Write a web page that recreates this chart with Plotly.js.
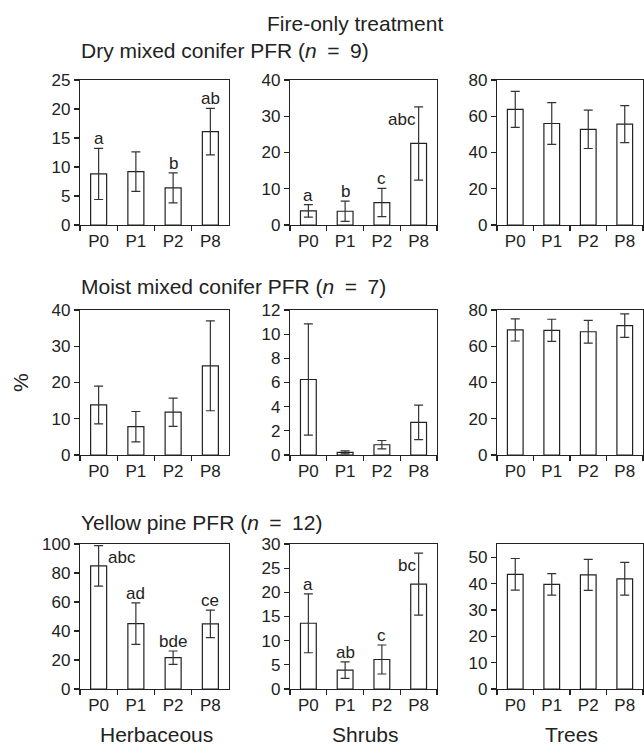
<!DOCTYPE html>
<html>
<head>
<meta charset="utf-8">
<script src="https://cdn.plot.ly/plotly-3.0.1.min.js"></script>
<style>html,body{margin:0;padding:0;background:#fff;}#chart{width:644px;height:745px;}</style>
</head>
<body>
<div id="chart"></div>
<script>
// ---- data ----
const categories = ['P0', 'P1', 'P2', 'P8'];

const dryHerb = [8.8, 9.2, 6.4, 16.1];
const dryHerbErr = [4.4, 3.4, 2.6, 4.0];
const dryHerbLetters = ['a', '', 'b', 'ab'];
const dryShrub = [3.9, 3.8, 6.2, 22.5];
const dryShrubErr = [1.7, 2.8, 3.9, 10.1];
const dryShrubLetters = ['a', 'b', 'c', 'abc'];
const dryTree = [63.8, 56.0, 52.8, 55.7];
const dryTreeErr = [9.9, 11.5, 10.6, 10.2];
const dryTreeLetters = ['', '', '', ''];

const moistHerb = [13.8, 7.8, 11.8, 24.6];
const moistHerbErr = [5.2, 4.2, 3.9, 12.4];
const moistHerbLetters = ['', '', '', ''];
const moistShrub = [6.25, 0.22, 0.85, 2.7];
const moistShrubErr = [4.6, 0.12, 0.35, 1.43];
const moistShrubLetters = ['', '', '', ''];
const moistTree = [69.0, 68.8, 68.0, 71.4];
const moistTreeErr = [6.1, 6.1, 6.3, 6.5];
const moistTreeLetters = ['', '', '', ''];

const pineHerb = [84.9, 45.1, 21.6, 44.9];
const pineHerbErr = [14.0, 14.3, 4.6, 9.5];
const pineHerbLetters = ['abc', 'ad', 'bde', 'ce'];
const pineShrub = [13.6, 3.9, 6.1, 21.7];
const pineShrubErr = [6.1, 1.7, 3.0, 6.4];
const pineShrubLetters = ['a', 'ab', 'c', 'bc'];
const pineTree = [43.5, 39.7, 43.3, 41.8];
const pineTreeErr = [6.0, 4.1, 5.9, 6.2];
const pineTreeLetters = ['', '', '', ''];

const mainTitle = 'Fire-only treatment';
const rowTitles = ['Dry mixed conifer PFR (<i>n</i>\u2002=\u20029)', 'Moist mixed conifer PFR (<i>n</i>\u2002=\u20027)', 'Yellow pine PFR (<i>n</i>\u2002=\u200212)'];
const colTitles = ['Herbaceous', 'Shrubs', 'Trees'];
const yLabel = '%';

// ---- layout config ----
const W = 644, H = 745;
const colPx = [[80, 229], [290, 437], [497, 643]];
const rowPx = [[80, 225], [310, 455], [544, 689]];
const yRanges = [[0, 25], [0, 40], [0, 80], [0, 40], [0, 12], [0, 80], [0, 100], [0, 30], [0, 55]];
const yDticks = [5, 10, 20, 10, 2, 20, 20, 5, 10];
// placement of letter for bar (panel index - bar index -> side)
const letterSide = { '1-3': 'left', '6-0': 'right', '7-3': 'left' };

const panels = [
  [dryHerb, dryHerbErr, dryHerbLetters], [dryShrub, dryShrubErr, dryShrubLetters], [dryTree, dryTreeErr, dryTreeLetters],
  [moistHerb, moistHerbErr, moistHerbLetters], [moistShrub, moistShrubErr, moistShrubLetters], [moistTree, moistTreeErr, moistTreeLetters],
  [pineHerb, pineHerbErr, pineHerbLetters], [pineShrub, pineShrubErr, pineShrubLetters], [pineTree, pineTreeErr, pineTreeLetters]
];

const FONT = 'Liberation Sans, Arial, sans-serif';
const INK = '#222';
const traces = [];
const layout = {
  width: W, height: H,
  margin: { l: 0, r: 0, t: 0, b: 0 },
  paper_bgcolor: '#fff', plot_bgcolor: '#fff',
  showlegend: false,
  font: { family: FONT, color: INK, size: 16 },
  annotations: []
};

panels.forEach((p, k) => {
  const r = Math.floor(k / 3), c = k % 3;
  const sfx = k === 0 ? '' : String(k + 1);
  const [vals, errs, letters] = p;
  traces.push({
    type: 'bar', x: categories, y: vals,
    xaxis: 'x' + sfx, yaxis: 'y' + sfx,
    width: 0.43,
    marker: { color: '#fff', line: { color: INK, width: 1.2 } },
    error_y: { type: 'data', array: errs, visible: true, color: '#333', thickness: 1.2, width: 4.5 },
    hoverinfo: 'skip'
  });
  layout['xaxis' + sfx] = {
    domain: [colPx[c][0] / W, colPx[c][1] / W],
    anchor: 'y' + sfx,
    type: 'category', categoryorder: 'array', categoryarray: categories,
    range: [-0.5, 3.5],
    tickson: 'boundaries', ticks: 'outside', ticklen: 5, tickwidth: 1.2, tickcolor: INK,
    showline: true, mirror: true, linecolor: INK, linewidth: 1.2,
    showgrid: false, zeroline: false,
    tickfont: { family: FONT, size: 17, color: INK },
    fixedrange: true
  };
  layout['yaxis' + sfx] = {
    domain: [1 - rowPx[r][1] / H, 1 - rowPx[r][0] / H],
    anchor: 'x' + sfx,
    range: yRanges[k], dtick: yDticks[k], tick0: 0,
    ticks: 'outside', ticklen: 5, tickwidth: 1.2, tickcolor: INK,
    showline: true, mirror: true, linecolor: INK, linewidth: 1.2,
    showgrid: false, zeroline: false,
    tickfont: { family: FONT, size: 17, color: INK },
    fixedrange: true
  };
  letters.forEach((t, i) => {
    if (!t) return;
    const side = letterSide[k + '-' + i] || 'above';
    const top = vals[i] + errs[i];
    const ann = {
      xref: 'x' + sfx, yref: 'y' + sfx, x: categories[i], y: top,
      text: t, showarrow: false, font: { family: FONT, size: 17, color: INK }
    };
    if (side === 'above') { ann.xanchor = 'center'; ann.yanchor = 'bottom'; ann.yshift = -2; }
    else if (side === 'left') { ann.xanchor = 'right'; ann.yanchor = 'top'; ann.xshift = -1; ann.yshift = -1; }
    else { ann.xanchor = 'left'; ann.yanchor = 'top'; ann.xshift = 7; ann.yshift = 0; }
    layout.annotations.push(ann);
  });
});

// titles
layout.annotations.push({
  xref: 'paper', yref: 'paper', x: 355 / W, y: 1 - 23 / H, xanchor: 'center', yanchor: 'middle',
  text: mainTitle, showarrow: false, font: { family: FONT, size: 21, color: INK }
});
const rowTitleY = [51, 287, 522];
rowTitles.forEach((t, r) => {
  layout.annotations.push({
    xref: 'paper', yref: 'paper', x: 79 / W, y: 1 - rowTitleY[r] / H, xanchor: 'left', yanchor: 'middle',
    text: t, showarrow: false, font: { family: FONT, size: 21, color: INK }
  });
});
const colTitleX = [156, 365, 571];
colTitles.forEach((t, c) => {
  layout.annotations.push({
    xref: 'paper', yref: 'paper', x: colTitleX[c] / W, y: 1 - 734 / H, xanchor: 'center', yanchor: 'middle',
    text: t, showarrow: false, font: { family: FONT, size: 21, color: INK }
  });
});
layout.annotations.push({
  xref: 'paper', yref: 'paper', x: 20 / W, y: 1 - 383 / H, xanchor: 'center', yanchor: 'middle',
  text: yLabel, textangle: -90, showarrow: false, font: { family: FONT, size: 21, color: INK }
});

Plotly.newPlot('chart', traces, layout, { staticPlot: true, displayModeBar: false });
</script>
</body>
</html>
